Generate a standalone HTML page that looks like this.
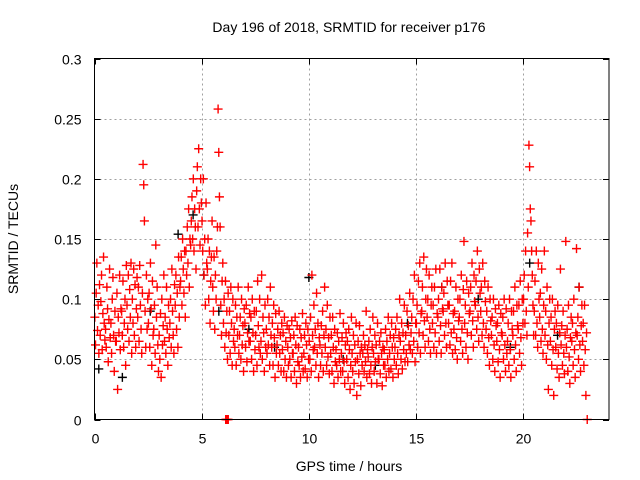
<!DOCTYPE html>
<html><head><meta charset="utf-8"><style>
body{margin:0;background:#fff;}
svg{display:block;font-family:"Liberation Sans",sans-serif;}
</style></head><body>
<svg id="chart" width="640" height="480" xmlns="http://www.w3.org/2000/svg">
<rect width="640" height="480" fill="#fff"/>
<text x="349" y="32" font-size="14" text-anchor="middle" fill="#000">Day 196 of 2018, SRMTID for receiver p176</text>
<text transform="translate(18,239) rotate(-90)" font-size="14" text-anchor="middle" fill="#000">SRMTID / TECUs</text>
<text x="349" y="471" font-size="14" text-anchor="middle" fill="#000">GPS time / hours</text>
<g id="grid"></g>
<g id="ticks"></g>
<g id="blackpts"></g>
<g id="redpts"></g>
<rect x="94.5" y="58.5" width="514.5" height="361" fill="none" stroke="#000" stroke-width="1"/>
</svg>
<script>
const xTicks=[0,5,10,15,20];
const yTicks=[0,0.05,0.1,0.15,0.2,0.25,0.3];
const yTickLabels=["0","0.05","0.1","0.15","0.2","0.25","0.3"];
const binStart=0, binWidth=0.25;
const redVals=[
[85,62,105,130,74,95,55,112],[70,98,120,58,88,135,80,66],[75,60,110,92,48,83,125,68],[80,55,100,118,70,40,90,65],
[65,105,25,85,72,120,58,92],[90,70,115,60,80,100,45,128],[95,75,120,65,108,85,130,55],[100,80,125,70,112,60,92,118],
[85,110,65,128,95,75,55,105],[212,195,165,90,60,120,75,100],[80,105,60,130,92,45,115,70],[75,95,55,145,85,110,62,40],
[70,50,88,35,100,62,78,120],[65,85,55,110,75,45,95,68],[80,100,60,125,90,70,55,112],[95,120,75,105,60,135,85,110],
[115,135,95,150,125,105,140,85],[140,120,160,130,175,110,150,145],[165,185,150,200,140,175,160,125],[190,210,160,225,175,145,200,180],
[165,140,200,120,150,95,180,130],[125,150,100,140,80,115,135,165],[110,90,135,75,120,100,140,160],[258,222,185,160,95,70,115,130],
[80,100,60,115,72,90,50,105],[70,90,55,110,80,45,100,65],[75,60,95,45,85,70,110,55],[70,85,50,100,62,78,40,92],
[80,60,95,48,72,110,65,88],[65,85,50,100,72,40,90,58],[70,90,45,115,78,60,100,55],[65,120,50,85,72,40,95,60],
[75,55,100,62,85,45,110,70],[60,80,45,95,68,35,88,55],[62,75,45,90,55,70,40,80],[58,72,40,85,50,65,35,78],
[60,45,75,50,68,35,82,55],[55,70,40,85,62,30,78,48],[60,45,75,35,68,52,88,40],[55,70,42,80,62,35,75,50],
[65,50,85,40,120,70,58,95],[60,75,45,105,55,80,35,68],[62,45,78,55,90,40,70,110],[60,75,45,95,52,68,38,85],
[55,70,40,85,60,30,75,48],[58,45,72,35,65,50,88,40],[55,68,40,80,48,30,62,72],[50,65,35,75,58,25,45,85],
[55,40,70,30,62,48,80,20],[50,65,38,78,55,28,60,45],[55,70,40,62,48,90,35,58],[52,65,38,75,45,30,60,85],
[55,40,70,48,62,30,80,50],[50,65,38,72,55,28,60,45],[58,45,75,35,65,50,85,40],[55,70,42,80,60,35,68,50],
[60,75,45,85,55,38,70,100],[65,50,80,42,72,58,95,48],[70,55,90,48,78,62,105,58],[72,85,55,100,65,120,48,80],
[80,95,60,115,72,130,55,88],[90,110,70,135,82,60,100,125],[85,100,65,120,75,55,95,110],[80,95,60,110,72,125,55,88],
[85,100,65,125,78,55,110,92],[90,105,70,130,80,60,115,95],[80,95,62,115,72,130,55,88],[75,90,58,110,68,50,100,82],
[85,100,65,120,75,55,108,148],[80,95,60,115,72,50,105,88],[90,110,70,130,82,60,120,98],[95,115,75,140,85,65,125,105],
[90,110,70,130,80,60,115,98],[75,90,55,110,68,45,100,82],[70,85,50,100,62,40,92,78],[65,80,48,95,58,35,88,72],
[70,85,50,100,62,40,92,55],[65,80,45,100,58,35,90,75],[70,90,50,110,62,40,95,78],[75,95,55,115,68,45,100,80],
[100,120,80,140,90,70,155,110],[228,210,175,165,140,120,95,70],[90,115,70,140,80,60,130,100],[85,105,65,125,75,55,95,140],
[70,90,50,110,62,25,80,100],[65,85,45,100,58,20,75,90],[60,80,42,95,55,35,72,125],[62,78,45,90,55,38,70,148],
[60,75,40,95,52,30,68,85],[65,80,45,100,58,35,72,142],[70,85,50,110,62,40,78,95],[65,80,45,95,58,20,72,0]
];
const zeroTimes=[6.12,6.16,6.2,6.24];
const blackTimes=[0.2,1.3,2.6,3.9,4.6,5.1,5.8,7.2,8.4,10.0,11.6,13.1,14.6,16.2,17.9,19.4,20.3,21.6,22.6];
const blackVals=[0.042,0.035,0.09,0.154,0.17,0.12,0.09,0.075,0.06,0.118,0.05,0.045,0.08,0.11,0.1,0.06,0.13,0.07,0.11];
const X0=94.5,X1=609,Y0=419.5,Y1=58.5,XMAX=24,YMAX=0.3;
function xs(t){return X0+(X1-X0)*t/XMAX;}
function ys(v){return Y0-(Y0-Y1)*v/YMAX;}
const NS="http://www.w3.org/2000/svg";
function mk(tag,attrs,parent){const e=document.createElementNS(NS,tag);for(const k in attrs)e.setAttribute(k,attrs[k]);parent.appendChild(e);return e;}
const grid=document.getElementById('grid'),ticks=document.getElementById('ticks');
yTicks.forEach((v,i)=>{
  const y=Math.round(ys(v))+0.5;
  if(v>0&&v<YMAX){const g=mk('line',{x1:X0,x2:X1,y1:y,y2:y,stroke:'#a0a0a0','stroke-dasharray':'2,3'},grid);
  
  }
  const t1=mk('line',{x1:X0,x2:X0+6,y1:y,y2:y,stroke:'#000'},ticks);
  
  
  const t2=mk('line',{x1:X1-6,x2:X1,y1:y,y2:y,stroke:'#000'},ticks);
  
  
  const l=mk('text',{x:X0-13,y:y+5,'font-size':'14','text-anchor':'end',fill:'#000'},ticks);
  l.textContent=yTickLabels[i];
  
  
});
xTicks.forEach(t=>{
  const x=Math.round(xs(t))+0.5;
  if(t>0){const g=mk('line',{x1:x,x2:x,y1:Y1,y2:Y0,stroke:'#a0a0a0','stroke-dasharray':'2,3'},grid);
  
  }
  const t1=mk('line',{x1:x,x2:x,y1:Y0-6,y2:Y0,stroke:'#000'},ticks);
  
  
  const t2=mk('line',{x1:x,x2:x,y1:Y1,y2:Y1+6,stroke:'#000'},ticks);
  
  
  const l=mk('text',{x:x,y:Y0+24,'font-size':'14','text-anchor':'middle',fill:'#000'},ticks);
  l.textContent=String(t);
  
  
});
function plus(x,y,color,parent,name){
  const p=mk('path',{d:`M${x-4.5},${y}H${x+4.5}M${x},${y-4.5}V${y+4.5}`,stroke:color,'stroke-width':'1.4',fill:'none'},parent);
  
  
}
const bp=document.getElementById('blackpts'),rp=document.getElementById('redpts');
blackTimes.forEach((t,i)=>plus(xs(t),ys(blackVals[i]),'#000',bp,'black-point'));
redVals.forEach((row,b)=>{
  row.forEach((v,j)=>{
    const t=binStart+b*binWidth+(j+0.5)/row.length*binWidth;
    plus(xs(t),ys(v/1000),'#ff0000',rp,'red-point');
  });
});
zeroTimes.forEach(t=>plus(xs(t),ys(0),'#ff0000',rp,'red-point-zero'));
</script>
</body></html>
